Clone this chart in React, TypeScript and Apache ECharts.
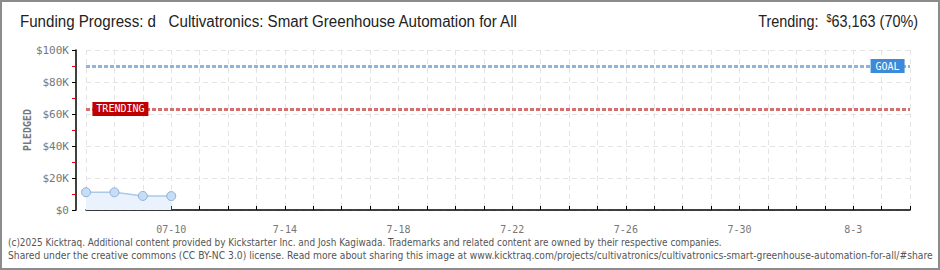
import React, { useEffect, useRef } from "react";
import * as echarts from "echarts";

const categories = [
  "07-07", "07-08", "07-09", "07-10", "07-11", "07-12", "07-13", "07-14", "07-15", "07-16",
  "07-17", "07-18", "07-19", "07-20", "07-21", "07-22", "07-23", "07-24", "07-25", "07-26",
  "07-27", "07-28", "07-29", "07-30", "07-31", "08-01", "08-02", "08-03", "08-04", "08-05",
];
const xTickLabels = [
  "", "", "", "07-10", "", "", "", "7-14", "", "",
  "", "7-18", "", "", "", "7-22", "", "", "", "7-26",
  "", "", "", "7-30", "", "", "", "8-3", "", "",
];
const pledged = [11100, 11050, 8800, 8700];
const goal = 90000;
const trending = 63163;
const yMin = 0;
const yMax = 100000;
const yInterval = 20000;

const pixelFont = "'DejaVu Sans Mono', monospace";
const titleFont = "16px 'Liberation Sans', Arial, sans-serif";
const footFont = "10px 'DejaVu Sans', Verdana, sans-serif";

export default function App() {
  const ref = useRef<HTMLDivElement>(null);
  useEffect(() => {
    if (!ref.current) return;
    const chart = echarts.init(ref.current, null, { renderer: "svg" });
    chart.setOption({
      animation: false,
      backgroundColor: "#ffffff",
      grid: { left: 86, right: 30, top: 50, bottom: 60 },
      graphic: [
        {
          type: "rect",
          shape: { x: 1, y: 1, width: 938, height: 268 },
          style: { fill: "none", stroke: "#8c8c8c", lineWidth: 2 },
          z: 100,
        },
        {
          type: "text",
          x: 20,
          y: 13,
          scaleX: 0.945,
          style: {
            text: "Funding Progress: d   Cultivatronics: Smart Greenhouse Automation for All",
            font: titleFont,
            fill: "#222",
            textAlign: "left",
            textVerticalAlign: "top",
          },
        },
        {
          type: "text",
          x: 918,
          y: 13,
          scaleX: 0.9,
          style: {
            text: "Trending:  {s|$}63,163 (70%)",
            font: titleFont,
            fill: "#222",
            textAlign: "right",
            textVerticalAlign: "top",
            rich: {
              s: { fontSize: 10, verticalAlign: "top", fill: "#222", fontFamily: "'Liberation Sans', Arial, sans-serif" },
            },
          },
        },
        {
          type: "text",
          x: 27,
          y: 130,
          rotation: Math.PI / 2,
          style: {
            text: "PLEDGED",
            font: "bold 10px 'DejaVu Sans Mono', monospace",
            fill: "#777",
            textAlign: "center",
            textVerticalAlign: "middle",
          },
        },
        {
          type: "text",
          x: 8,
          y: 237,
          scaleX: 0.894,
          style: {
            text:
              "(c)2025 Kicktraq. Additional content provided by Kickstarter Inc. and Josh Kagiwada. Trademarks and related content are owned by their respective companies.",
            font: footFont,
            fill: "#555",
            textAlign: "left",
            textVerticalAlign: "top",
          },
        },
        {
          type: "text",
          x: 8,
          y: 250,
          scaleX: 0.92,
          style: {
            text:
              "Shared under the creative commons (CC BY-NC 3.0) license. Read more about sharing this image at www.kicktraq.com/projects/cultivatronics/cultivatronics-smart-greenhouse-automation-for-all/#share",
            font: footFont,
            fill: "#555",
            textAlign: "left",
            textVerticalAlign: "top",
          },
        },
      ],
      xAxis: {
        type: "category",
        data: categories,
        boundaryGap: false,
        offset: 11,
        axisLine: { lineStyle: { color: "#000", width: 1.5 } },
        axisTick: { show: true, inside: true, length: 4, interval: 0, lineStyle: { color: "#000" } },
        axisLabel: {
          interval: 0,
          margin: 3,
          color: "#777",
          fontSize: 10,
          fontFamily: pixelFont,
          formatter: (_v: string, i: number) => xTickLabels[i],
        },
        splitLine: { show: true, interval: 0, lineStyle: { color: "#e4e4e4", type: [5, 4] } },
      },
      yAxis: {
        type: "value",
        min: yMin,
        max: yMax,
        interval: yInterval,
        offset: 10,
        axisLine: { show: true, lineStyle: { color: "#000", width: 1.5 } },
        axisTick: { show: true, length: 4, lineStyle: { color: "#000" } },
        minorTick: { show: true, splitNumber: 2, length: 4, lineStyle: { color: "#e00" } },
        axisLabel: {
          margin: 7,
          color: "#777",
          fontSize: 11,
          fontFamily: pixelFont,
          formatter: (v: number) => (v === 0 ? "$0" : "$" + v / 1000 + "K"),
        },
        splitLine: { show: true, lineStyle: { color: "#e4e4e4", type: [5, 4] } },
      },
      series: [
        {
          type: "line",
          data: pledged,
          symbol: "circle",
          symbolSize: 9,
          lineStyle: { color: "#a9c9ee", width: 1.5 },
          itemStyle: { color: "#c6ddf6", borderColor: "#90b0d6", borderWidth: 1 },
          areaStyle: { color: "#eaf3fd", opacity: 1 },
          z: 5,
          markLine: {
            silent: true,
            symbol: "none",
            label: { show: false },
            data: [
              { yAxis: goal, lineStyle: { color: "#8fb4dc", width: 3, type: [4, 2] } },
              { yAxis: trending, lineStyle: { color: "#d47070", width: 3, type: [4, 2] } },
            ],
          },
          markPoint: {
            silent: true,
            data: [
              {
                coord: [categories[28], goal],
                symbol: "rect",
                symbolSize: [34, 14],
                symbolOffset: [6, 0],
                itemStyle: { color: "#3d8ad8" },
                label: {
                  show: true,
                  formatter: "GOAL",
                  color: "#fff",
                  fontSize: 10,
                  fontFamily: pixelFont,
                },
              },
              {
                coord: [categories[1], trending],
                symbol: "rect",
                symbolSize: [56, 14],
                symbolOffset: [6, 0],
                itemStyle: { color: "#c00000" },
                label: {
                  show: true,
                  formatter: "TRENDING",
                  color: "#fff",
                  fontSize: 10,
                  fontFamily: pixelFont,
                },
              },
            ],
          },
        },
      ],
    });
    return () => chart.dispose();
  }, []);
  return (
    <div
      ref={ref}
      style={{ position: "fixed", left: 0, top: 0, width: 940, height: 270, background: "#fff" }}
    />
  );
}
